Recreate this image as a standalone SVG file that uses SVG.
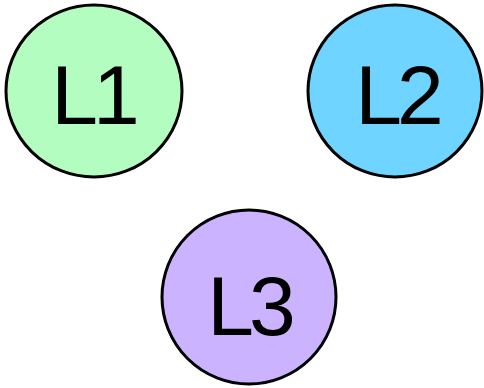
<svg xmlns="http://www.w3.org/2000/svg" width="484" height="388" viewBox="0 0 484 388">
<style>
.n{stroke:#000;stroke-width:3}
.t{font-family:"Liberation Sans",Arial,sans-serif;font-size:84px;fill:#000;text-anchor:middle;letter-spacing:-5px}
</style>
<rect width="484" height="388" fill="#fff"/>
<g id="connectors"></g>
<g id="L1"><ellipse class="n" cx="94" cy="91" rx="88" ry="86" fill="#b3fdc0"/><text class="t" x="93" y="124">L1</text></g>
<g id="L2"><ellipse class="n" cx="395" cy="91" rx="87" ry="86" fill="#6fd4ff"/><text class="t" x="397" y="124">L2</text></g>
<g id="L3"><ellipse class="n" cx="249" cy="297" rx="87" ry="87" fill="#ccb3ff"/><text class="t" x="249" y="335">L3</text></g>
</svg>
